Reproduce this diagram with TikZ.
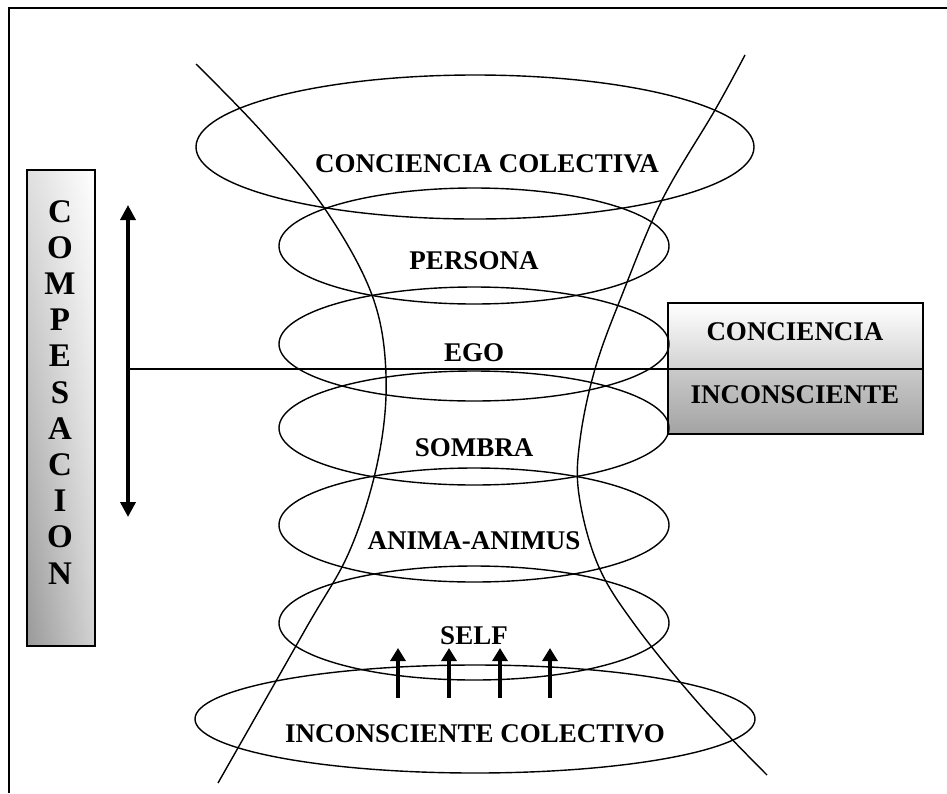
\documentclass[tikz,border=0pt]{standalone}
\usepackage{fontspec}
\setmainfont{Liberation Serif}
\usetikzlibrary{arrows.meta,shadings}
\begin{document}
\begin{tikzpicture}[x=1pt,y=-1pt,
  thin line/.style={line width=1.4pt},
  lbl/.style={font=\fontsize{27}{27}\selectfont\bfseries, inner sep=0pt, text height=18pt, text depth=0pt},
  colletter/.style={font=\fontsize{33}{33}\selectfont\bfseries, inner sep=0pt, text height=22pt, text depth=0pt},
  bigarrow/.style={line width=3.5pt, {Triangle[length=15pt,width=15pt]}-{Triangle[length=15pt,width=15pt]}},
  uparrow/.style={line width=3.2pt, -{Triangle[length=13pt,width=15pt]}}]
\useasboundingbox (0,0) rectangle (947,793);

% page frame
\draw[line width=1.6pt] (9,793) -- (9,8) -- (947,8);

% compensation bar
\shade[upper left=gray!25, upper right=white, lower left=gray!80, lower right=gray!35]
  (27,170) rectangle (95,646);
\draw[line width=1.3pt] (27,170) rectangle (95,646);
\foreach \ch [count=\i from 0] in {C,O,M,P,E,S,A,C,I,O,N}
  \node[colletter] (let\i) at (60,{211+36.2*\i}) {\ch};

% conscious / unconscious box
\shade[top color=white, bottom color=gray!35] (668,303) rectangle (923,369);
\shade[top color=gray!42, bottom color=gray!72] (668,369) rectangle (923,434);
\draw[line width=1.3pt] (668,303) rectangle (923,434);
\draw[line width=1.3pt] (668,369) -- (923,369);
\node[lbl] (conc) at (795,331) {CONCIENCIA};
\node[lbl] (inco) at (795,394) {INCONSCIENTE};

% funnel outline
\draw[thin line] plot[smooth, tension=0.6] coordinates
  {(196,64) (262,132) (325,209) (372,295) (386,375) (378,460) (350,550) (305,630) (218,783)};
\draw[thin line] plot[smooth, tension=0.6] coordinates
  {(745,55) (715,110) (662,200) (622,295) (595,369) (580,440) (579,495) (598,565) (635,625) (700,705) (767,775)};

% levels
\draw[thin line] (475,147) ellipse [x radius=279pt, y radius=72pt];
\draw[thin line] (474,246) ellipse [x radius=195pt, y radius=58pt];
\draw[thin line] (474,344) ellipse [x radius=195pt, y radius=57pt];
\draw[thin line] (474,428) ellipse [x radius=195pt, y radius=57pt];
\draw[thin line] (474,525) ellipse [x radius=195pt, y radius=57pt];
\draw[thin line] (474,623) ellipse [x radius=195pt, y radius=57pt];
\draw[thin line] (475,719) ellipse [x radius=280pt, y radius=54pt];

\node[lbl] (cc)   at (487,163) {CONCIENCIA COLECTIVA};
\node[lbl] (pers) at (474,260) {PERSONA};
\node[lbl] (ego)  at (474,352) {EGO};
\node[lbl] (somb) at (474,447) {SOMBRA};
\node[lbl] (anim) at (474,540) {ANIMA-ANIMUS};
\node[lbl] (self) at (474,635) {SELF};
\node[lbl] (ic)   at (475,733) {INCONSCIENTE COLECTIVO};

% threshold line and compensation arrow
\coordinate (split) at (128,369);
\coordinate (comptop) at (128,205);
\coordinate (compbot) at (128,517);
\draw[thin line] (split) -- (668,369);
\draw[bigarrow] (compbot) -- (comptop);

% rising arrows
\foreach \x [count=\i] in {398,449,500,550} {
  \coordinate (ub\i) at (\x,698);
  \coordinate (ut\i) at (\x,648);
  \draw[uparrow] (ub\i) -- (ut\i);
}
\end{tikzpicture}
\end{document}
